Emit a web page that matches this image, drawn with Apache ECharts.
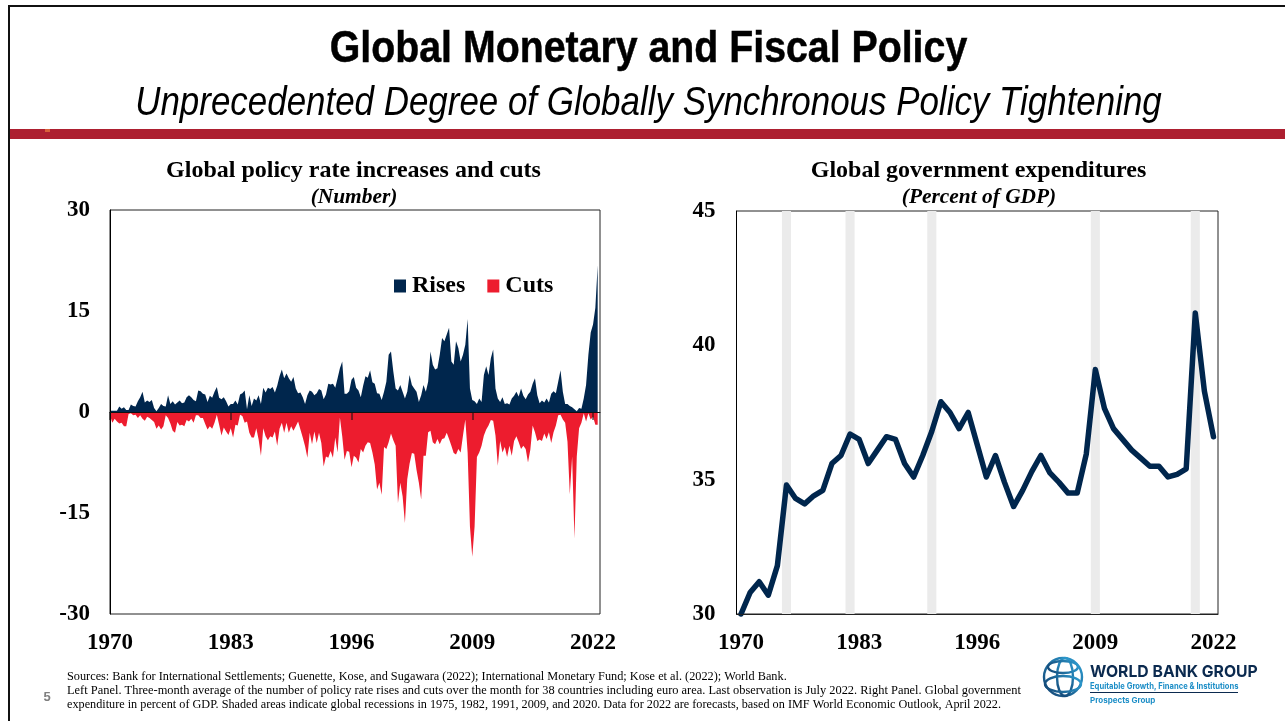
<!DOCTYPE html>
<html>
<head>
<meta charset="utf-8">
<title>Global Monetary and Fiscal Policy</title>
<script src="https://cdn.jsdelivr.net/npm/echarts@6/dist/echarts.min.js"></script>
<style>
    html, body { margin: 0; padding: 0; background: #fff; }
    #main { width: 1285px; height: 721px; }
</style>
</head>
<body>
<div id="main"></div>
<script>
// left panel, quarterly readings from 1970Q1 to 2022Q3
const rateRises = [
    0.2, 0.2, 0.2, 0.2, 0.8, 0.5, 0.7, 0.3, 0.3, 1.1, 0.9, 0.8, 1.6, 2.2, 3.0, 1.4, 1.7, 1.5, 1.8, 0.6,
    0.1, 0.6, 1.2, 0.9, 0.8, 2.5, 1.2, 1.6, 1.1, 1.4, 1.7, 1.3, 1.4, 2.2, 2.5, 2.2, 1.8, 1.6, 3.2, 3.1,
    2.7, 2.6, 1.5, 2.4, 2.1, 3.0, 3.7, 2.1, 1.9, 2.2, 1.6, 0.8, 1.2, 1.2, 1.7, 1.1, 2.6, 2.8, 3.2, 0.4,
    2.5, 0.9, 2.0, 1.7, 2.5, 1.2, 3.6, 2.9, 3.6, 3.4, 3.7, 2.9, 3.9, 5.3, 6.3, 5.0, 5.7, 5.0, 4.5, 5.2,
    3.5, 2.8, 2.9, 2.2, 1.2, 2.5, 3.2, 3.0, 2.5, 2.8, 3.4, 3.2, 1.9, 2.6, 4.2, 4.1, 4.2, 3.6, 5.0, 6.5,
    7.5, 2.7, 2.7, 3.1, 4.8, 5.2, 3.6, 3.2, 2.2, 3.9, 5.3, 5.1, 6.2, 4.4, 4.2, 2.8, 2.7, 1.8, 3.0, 4.5,
    8.5, 9.0, 6.0, 3.5, 3.2, 4.0, 3.0, 2.0, 3.0, 5.5, 4.0, 3.5, 3.0, 1.5, 2.5, 4.0, 3.0, 4.5, 9.0, 7.0,
    6.3, 6.5, 8.5, 11.0, 10.5, 11.5, 12.5, 7.5, 7.0, 10.5, 9.5, 7.5, 8.5, 10.0, 13.8, 3.5, 1.8, 1.6, 1.2, 2.0,
    1.5, 5.5, 6.8, 5.5, 8.0, 9.3, 3.5, 2.0, 1.5, 2.2, 1.2, 1.3, 1.1, 2.0, 2.4, 3.0, 2.3, 3.5, 2.4, 1.9,
    2.6, 3.0, 4.2, 5.0, 2.5, 1.3, 1.7, 1.4, 2.0, 1.4, 2.7, 3.1, 2.8, 4.5, 6.2, 3.0, 1.2, 1.2, 0.9, 0.7,
    0.4, 0.1, 0.6, 0.5, 2.0, 4.0, 8.5, 11.8, 13.0, 15.5, 21.8
];
const rateCuts = [
    -0.5, -1.6, -1.0, -1.4, -1.7, -1.6, -2.1, -2.1, -0.3, -0.2, -0.5, -0.4, -0.9, -0.5, -1.0, -1.3, -0.7, -0.9, -1.2, -1.5,
    -2.5, -2.0, -2.6, -2.1, -0.5, -0.9, -1.7, -2.8, -3.1, -1.5, -2.0, -1.9, -2.1, -1.2, -1.4, -1.0, -1.6, -0.5, -0.5, -0.9,
    -0.9, -1.8, -2.6, -2.1, -2.5, -1.6, -0.4, -1.9, -3.5, -2.3, -2.9, -3.4, -2.4, -3.8, -1.9, -2.0, -0.4, -0.6, -1.6, -1.4,
    -3.1, -3.8, -3.8, -2.4, -4.1, -6.5, -2.4, -3.6, -4.2, -3.6, -3.8, -2.9, -5.0, -2.5, -1.6, -3.1, -1.6, -3.1, -2.1, -2.8,
    -2.1, -1.4, -2.6, -3.8, -5.1, -6.8, -3.1, -4.8, -2.9, -4.6, -3.1, -4.6, -8.1, -6.6, -6.8, -5.8, -6.8, -3.8, -6.0, -0.8,
    -3.6, -7.1, -5.8, -5.9, -8.2, -6.5, -6.8, -7.5, -5.5, -6.0, -5.0, -4.5, -4.6, -6.0, -7.8, -11.5, -10.5, -12.3, -5.2, -5.5,
    -4.5, -3.2, -4.2, -5.0, -13.5, -10.5, -12.5, -16.5, -10.0, -7.7, -6.1, -6.2, -8.6, -10.5, -13.0, -6.5, -6.5, -3.0, -2.8, -4.5,
    -4.8, -4.0, -4.8, -4.0, -3.9, -3.1, -4.0, -5.0, -6.1, -6.3, -5.5, -6.0, -3.5, -1.1, -6.0, -17.0, -21.5, -17.0, -6.7, -6.0,
    -5.0, -3.5, -2.6, -2.0, -1.2, -1.3, -3.5, -8.0, -4.3, -6.0, -5.2, -6.7, -5.0, -6.5, -4.3, -3.6, -4.5, -5.5, -5.0, -5.5,
    -7.5, -5.6, -2.0, -3.0, -4.3, -4.1, -4.3, -3.2, -4.0, -3.0, -4.6, -3.0, -2.0, -0.5, -0.4, -1.1, -1.6, -4.4, -12.2, -6.6,
    -18.8, -6.6, -2.4, -1.6, -0.2, -1.4, -0.2, -1.1, -0.7, -1.9, -1.9
];

// right panel, one reading a year, 1970-2022
const expenditure = [
    30.0, 30.8, 31.2, 30.7, 31.8, 34.8, 34.3, 34.1, 34.4, 34.6, 35.6, 35.9, 36.7, 36.5, 35.6, 36.1, 36.6, 36.5, 35.6, 35.1,
    35.9, 36.8, 37.9, 37.5, 36.9, 37.5, 36.3, 35.1, 35.9, 34.9, 34.0, 34.6, 35.3, 35.9, 35.25, 34.9, 34.5, 34.5, 35.95, 39.1,
    37.65, 36.9, 36.5, 36.1, 35.8, 35.5, 35.5, 35.1, 35.2, 35.4, 41.2, 38.3, 36.6
];
const recessionYears = ['1975', '1982', '1991', '2009', '2020'];
const yearLabels = ['1970', '1983', '1996', '2009', '2022'];

const SERIF = '"Liberation Serif", serif';
const SANS = '"Liberation Sans", sans-serif';
const NAVY = '#00264d';
const RED = '#ed1c2e';

// quarters on the left, the labelled years keep their plain name
const quarters = [];
for (let y = 1970; y <= 2022; y++) {
    for (let q = 1; q <= 4; q++) {
        quarters.push(q === 1 ? String(y) : y + 'Q' + q);
    }
}
const years = [];
for (let y = 1970; y <= 2022; y++) {
    years.push(String(y));
}
const recessionBars = years.map(y => recessionYears.indexOf(y) >= 0 ? 45 : null);

const tickLabel = {
    fontFamily: SERIF,
    fontWeight: 'bold',
    fontSize: 23,
    color: '#000'
};

// the slide's text is stretched or squeezed, hence the scale argument
function text(str, x, y, size, scale, opts) {
    return {
        type: 'text',
        silent: true,
        x: x,
        y: y,
        scaleX: scale,
        z: 20,
        style: Object.assign({
            text: str,
            fontFamily: SERIF,
            fontSize: size,
            fill: '#000',
            textAlign: 'left',
            textVerticalAlign: 'middle'
        }, opts || {})
    };
}

function rect(x, y, w, h, fill) {
    return { type: 'rect', silent: true, z: 15, shape: { x: x, y: y, width: w, height: h }, style: { fill: fill } };
}

const globeStroke = new echarts.graphic.LinearGradient(0, 1, 1, 0, [
    { offset: 0, color: '#123f6d' },
    { offset: 1, color: '#2fa3d8' }
]);

function globeLine(type, shape) {
    return { type: type, silent: true, z: 20, shape: shape, style: { fill: 'none', stroke: globeStroke, lineWidth: 2.4 } };
}

const graphics = [
    // frame and band
    rect(8, 5, 1277, 2, '#111'),
    rect(8, 5, 2, 716, '#111'),
    rect(10, 129, 1275, 10, '#ad1f30'),
    rect(45, 129, 5, 3, '#d8603a'),

    text('Global Monetary and Fiscal Policy', 648.5, 50, 45, 0.873, { fontFamily: SANS, fontWeight: 'bold', textAlign: 'center', stroke: '#000', lineWidth: 0.5 }),
    text('Unprecedented Degree of Globally Synchronous Policy Tightening', 648.5, 104, 40, 0.873, { fontFamily: SANS, fontStyle: 'italic', textAlign: 'center' }),

    text('Global policy rate increases and cuts', 353.5, 171, 24, 1, { fontWeight: 'bold', textAlign: 'center' }),
    text('(Number)', 354, 197, 21.4, 1, { fontWeight: 'bold', fontStyle: 'italic', textAlign: 'center' }),
    text('Global government expenditures', 978.5, 171, 24, 1, { fontWeight: 'bold', textAlign: 'center' }),
    text('(Percent of GDP)', 979, 197, 21.4, 1, { fontWeight: 'bold', fontStyle: 'italic', textAlign: 'center' }),

    // notes
    text('Sources: Bank for International Settlements; Guenette, Kose, and Sugawara (2022); International Monetary Fund; Kose et al. (2022); World Bank.', 67, 677, 12, 1.023),
    text('Left Panel. Three-month average of the number of policy rate rises and cuts over the month for 38 countries including euro area. Last observation is July 2022. Right Panel. Global government', 67, 691, 12, 1.035),
    text('expenditure in percent of GDP. Shaded areas indicate global recessions in 1975, 1982, 1991, 2009, and 2020. Data for 2022 are forecasts, based on IMF World Economic Outlook, April 2022.', 67, 705, 12, 1.018),
    text('5', 47, 697, 13, 1, { fontFamily: SANS, fontWeight: 'bold', fill: '#7f7f7f', textAlign: 'center' }),

    // logo
    globeLine('circle', { cx: 1063, cy: 677, r: 19 }),
    globeLine('ellipse', { cx: 1065, cy: 677, rx: 8, ry: 19 }),
    globeLine('ellipse', { cx: 1063, cy: 684, rx: 18, ry: 8 }),
    globeLine('ellipse', { cx: 1063, cy: 667, rx: 15, ry: 6 }),
    text('WORLD BANK GROUP', 1090, 672, 16.5, 0.955, { fontFamily: 'Inter, sans-serif', fontWeight: 'bold', fill: '#0b2a4f' }),
    text('Equitable Growth, Finance & Institutions', 1090, 686.5, 9, 0.846, { fontFamily: 'Inter, sans-serif', fontWeight: 'bold', fill: '#1d8ec7' }),
    rect(1090, 692, 148, 1, '#0b2a4f'),
    text('Prospects Group', 1090, 701, 8, 1, { fontFamily: 'Inter, sans-serif', fontWeight: 'bold', fill: '#1d8ec7' })
];

const chart = echarts.init(document.getElementById('main'));

const option = {
    backgroundColor: '#fff',
    animation: false,
    graphic: graphics,
    legend: {
        left: 389,
        top: 269,
        data: ['Rises', 'Cuts'],
        icon: 'rect',
        itemWidth: 12,
        itemHeight: 13,
        itemGap: 22,
        textStyle: {
            fontFamily: SERIF,
            fontWeight: 'bold',
            fontSize: 24,
            color: '#000',
            padding: [0, 0, 0, 1]
        }
    },
    grid: [
        { left: 110, top: 210, width: 490, height: 404, show: true, borderColor: '#222', borderWidth: 1 },
        { left: 736.5, top: 211, width: 481.5, height: 403, show: true, borderColor: '#222', borderWidth: 1 }
    ],
    xAxis: [
        // labels along the bottom of the left panel
        {
            type: 'category',
            gridIndex: 0,
            data: quarters,
            boundaryGap: false,
            position: 'bottom',
            axisLine: { show: false, onZero: false },
            axisTick: { show: false },
            axisLabel: Object.assign({}, tickLabel, {
                margin: 18,
                interval: 51,
                formatter: v => yearLabels.indexOf(v) >= 0 ? v : ''
            })
        },
        // zero line with its ticks
        {
            type: 'category',
            gridIndex: 0,
            data: quarters,
            boundaryGap: false,
            position: 'bottom',
            z: 5,
            axisLine: { onZero: true, lineStyle: { color: '#111', width: 1 } },
            axisTick: { show: true, interval: 51, length: 8, lineStyle: { color: '#111', width: 1.5, opacity: 0.7 } },
            axisLabel: { show: false }
        },
        {
            type: 'category',
            gridIndex: 1,
            data: years,
            z: 5,
            axisLine: { lineStyle: { color: '#222', width: 1 } },
            axisTick: { show: false },
            axisLabel: Object.assign({}, tickLabel, {
                margin: 18,
                interval: 12
            })
        }
    ],
    yAxis: [
        {
            type: 'value',
            gridIndex: 0,
            min: -30,
            max: 30,
            interval: 15,
            z: 5,
            splitLine: { show: false },
            axisLine: { show: true, onZero: false, lineStyle: { color: '#000', width: 1 } },
            axisTick: { show: false },
            axisLabel: Object.assign({}, tickLabel, { margin: 20, padding: [2, 0, 0, 0] })
        },
        {
            type: 'value',
            gridIndex: 1,
            min: 30,
            max: 45,
            interval: 5,
            z: 5,
            splitLine: { show: false },
            axisLine: { show: true, onZero: false, lineStyle: { color: '#000', width: 1 } },
            axisTick: { show: false },
            axisLabel: Object.assign({}, tickLabel, { margin: 21, padding: [2, 0, 0, 0] })
        }
    ],
    series: [
        {
            name: 'Rises',
            type: 'line',
            xAxisIndex: 0,
            yAxisIndex: 0,
            data: rateRises,
            color: NAVY,
            showSymbol: false,
            lineStyle: { width: 0 },
            areaStyle: { color: NAVY, opacity: 1 }
        },
        {
            name: 'Cuts',
            type: 'line',
            xAxisIndex: 0,
            yAxisIndex: 0,
            data: rateCuts,
            color: RED,
            showSymbol: false,
            lineStyle: { width: 0 },
            areaStyle: { color: RED, opacity: 1 }
        },
        {
            name: 'Recessions',
            type: 'bar',
            xAxisIndex: 2,
            yAxisIndex: 1,
            data: recessionBars,
            barWidth: '100%',
            itemStyle: { color: '#ebebeb' },
            z: 1
        },
        {
            name: 'Government expenditure',
            type: 'line',
            xAxisIndex: 2,
            yAxisIndex: 1,
            data: expenditure,
            showSymbol: false,
            clip: false,
            lineStyle: { color: NAVY, width: 5.5, join: 'round', cap: 'round' },
            z: 3
        }
    ]
};

chart.setOption(option);
</script>
</body>
</html>
